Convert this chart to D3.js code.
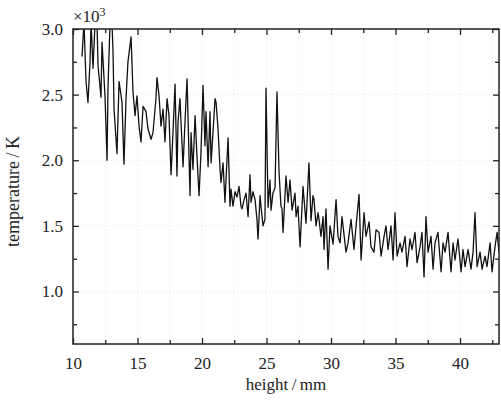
<!DOCTYPE html>
<html>
<head>
<meta charset="utf-8">
<script src="https://cdn.jsdelivr.net/npm/d3@7"></script>
<style>
    body { margin: 0; background: #fff; }
    svg text { font-family: "Liberation Serif", "Times New Roman", serif !important; fill: #222; }
</style>
</head>
<body>
<div id="chart"></div>
<script>
// height along the column (mm) and temperature (K)
const heightMm = [
    10.70, 10.85, 11.01, 11.16, 11.32, 11.40, 11.55, 11.71, 11.86, 11.94,
    12.17, 12.25, 12.48, 12.64, 12.71, 12.87, 13.02, 13.10, 13.18, 13.41,
    13.57, 13.80, 13.95, 14.11, 14.26, 14.50, 14.65, 14.81, 14.96, 15.12,
    15.27, 15.43, 15.66, 15.81, 16.05, 16.20, 16.43, 16.51, 16.67, 16.82,
    16.98, 17.13, 17.29, 17.44, 17.60, 17.75, 17.91, 18.06, 18.14, 18.29,
    18.53, 18.68, 18.84, 19.07, 19.15, 19.30, 19.46, 19.61, 19.77, 19.92,
    20.08, 20.23, 20.31, 20.47, 20.62, 20.70, 20.85, 21.01, 21.09, 21.24,
    21.40, 21.47, 21.63, 21.78, 21.86, 22.02, 22.17, 22.25, 22.40, 22.56,
    22.71, 22.87, 23.02, 23.10, 23.26, 23.41, 23.57, 23.72, 23.80, 23.95,
    24.11, 24.26, 24.34, 24.50, 24.57, 24.73, 24.88, 24.96, 25.12, 25.27,
    25.35, 25.50, 25.66, 25.81, 25.97, 26.12, 26.20, 26.28, 26.51, 26.67,
    26.82, 26.98, 27.21, 27.29, 27.44, 27.60, 27.83, 28.06, 28.29, 28.45,
    28.60, 28.68, 28.84, 28.99, 29.07, 29.22, 29.38, 29.46, 29.61, 29.77,
    29.92, 30.16, 30.39, 30.54, 30.70, 30.85, 31.16, 31.32, 31.55, 31.78,
    31.94, 32.17, 32.33, 32.56, 32.71, 32.95, 33.10, 33.33, 33.49, 33.72,
    33.88, 34.11, 34.26, 34.42, 34.65, 34.81, 34.96, 35.12, 35.35, 35.50,
    35.74, 35.89, 36.12, 36.28, 36.51, 36.67, 36.90, 37.05, 37.21, 37.36,
    37.52, 37.75, 37.91, 38.06, 38.29, 38.53, 38.68, 38.84, 39.07, 39.30,
    39.46, 39.61, 39.84, 40.08, 40.23, 40.39, 40.62, 40.85, 41.01, 41.16,
    41.32, 41.55, 41.71, 41.94, 42.09, 42.33, 42.48, 42.71, 42.87, 43.02
];

const temperatureK = [
    2790, 3050, 2600, 2440, 2750, 3050, 2700, 3050, 3050, 2720,
    2480, 2900, 2490, 2000, 2540, 3050, 3050, 2840, 2390, 2050,
    2600, 2440, 1970, 2470, 2750, 2940, 2520, 2340, 2490, 2260,
    2140, 2410, 2370, 2240, 2160, 2210, 2470, 2630, 2490, 2260,
    2390, 2140, 2470, 2340, 1890, 2210, 2580, 1880, 2290, 2470,
    1950, 2290, 2620, 1730, 2210, 1930, 2340, 2030, 1730, 2060,
    2570, 2110, 2370, 1950, 2370, 1980, 2210, 2470, 2440, 2240,
    1930, 1830, 1980, 1680, 1850, 2170, 1650, 1780, 1650, 1760,
    1720, 1800, 1650, 1630, 1700, 1750, 1570, 1890, 1680, 1760,
    1700, 1550, 1400, 1730, 1650, 1500, 1550, 2550, 1640, 1850,
    1620, 1750, 1790, 2520, 1910, 1650, 1630, 1450, 1880, 1680,
    1850, 1620, 1750, 1570, 1650, 1340, 1800, 1520, 1980, 1540,
    1730, 1700, 1500, 1600, 1550, 1420, 1570, 1320, 1630, 1170,
    1500, 1360, 1700, 1420, 1370, 1570, 1300, 1370, 1550, 1320,
    1500, 1740, 1240, 1600, 1420, 1530, 1340, 1300, 1470, 1450,
    1270, 1420, 1500, 1320, 1500, 1240, 1600, 1270, 1370, 1300,
    1420, 1190, 1400, 1320, 1450, 1220, 1340, 1450, 1110, 1570,
    1300, 1420, 1170, 1370, 1450, 1150, 1370, 1300, 1450, 1150,
    1370, 1240, 1400, 1150, 1320, 1190, 1320, 1170, 1300, 1600,
    1190, 1300, 1170, 1270, 1190, 1370, 1150, 1340, 1450, 1300
];

const xMajorTicks = [10, 15, 20, 25, 30, 35, 40];
const xMinorTicks = [12.5, 17.5, 22.5, 27.5, 32.5, 37.5, 42.5];
const yMajorTicks = [1000, 1500, 2000, 2500, 3000];
const yMinorTicks = [750, 1250, 1750, 2250, 2750];

const xDomain = [10, 43.02];
const yDomain = [600, 3000];

const serif = "'Liberation Serif', 'Times New Roman', serif";

function ShowGraph(config)
{
    const margin = { top: 29, right: 2, bottom: 58, left: 73 };
    const width = config.width - margin.left - margin.right;
    const height = config.height - margin.top - margin.bottom;

    const root = d3.select(config.root)
        .append("svg")
        .attr("width", config.width)
        .attr("height", config.height)
        .attr("font-family", serif);

    root.append("rect")
        .attr("width", config.width)
        .attr("height", config.height)
        .attr("fill", "#fff");

    const svg = root.append("g")
        .attr("transform", `translate(${margin.left}, ${margin.top})`);

    const xScale = d3.scaleLinear().domain(xDomain).range([0, width]);
    const yScale = d3.scaleLinear().domain(yDomain).range([height, 0]);

    // faint grid, like the scanned original
    svg.append("g")
        .selectAll("line")
        .data(xMajorTicks.concat(xMinorTicks).filter(d => d > 10))
        .join("line")
        .attr("x1", d => xScale(d)).attr("x2", d => xScale(d))
        .attr("y1", 0).attr("y2", height)
        .attr("stroke", "#e4e4e4")
        .attr("stroke-dasharray", "1,3");

    svg.append("g")
        .selectAll("line")
        .data(yMajorTicks.filter(d => d < 3000))
        .join("line")
        .attr("x1", 0).attr("x2", width)
        .attr("y1", d => yScale(d)).attr("y2", d => yScale(d))
        .attr("stroke", "#e4e4e4")
        .attr("stroke-dasharray", "1,3");

    svg.append("clipPath")
        .attr("id", "plot-clip")
        .append("rect")
        .attr("width", width)
        .attr("height", height);

    const points = heightMm.map((h, i) => ({ h: h, t: temperatureK[i] }));

    svg.append("path")
        .datum(points)
        .attr("clip-path", "url(#plot-clip)")
        .attr("fill", "none")
        .attr("stroke", "#111")
        .attr("stroke-width", 1.3)
        .attr("stroke-linejoin", "round")
        .attr("d", d3.line()
            .x(d => xScale(d.h))
            .y(d => yScale(d.t)));

    const major = 6, minor = 4;

    const styleAxis = g => {
        g.attr("font-family", serif).attr("font-size", 17);
        g.select(".domain").remove();
        g.selectAll(".tick line").attr("stroke", "#222").attr("stroke-width", 1.3);
        g.selectAll(".tick text").attr("fill", "#222").attr("font-family", serif).style("font-size", "17px");
    };

    // bottom
    svg.append("g")
        .attr("transform", `translate(0, ${height})`)
        .call(d3.axisBottom(xScale).tickValues(xMajorTicks).tickSize(-major).tickPadding(13).tickFormat(d3.format("d")))
        .call(styleAxis);
    svg.append("g")
        .attr("transform", `translate(0, ${height})`)
        .call(d3.axisBottom(xScale).tickValues(xMinorTicks).tickSize(-minor).tickFormat(""))
        .call(styleAxis);

    // top
    svg.append("g")
        .call(d3.axisTop(xScale).tickValues(xMajorTicks).tickSize(-major).tickFormat(""))
        .call(styleAxis);
    svg.append("g")
        .call(d3.axisTop(xScale).tickValues(xMinorTicks).tickSize(-minor).tickFormat(""))
        .call(styleAxis);

    // left
    svg.append("g")
        .call(d3.axisLeft(yScale).tickValues(yMajorTicks).tickSize(-major).tickPadding(10).tickFormat(d => (d / 1000).toFixed(1)))
        .call(styleAxis);
    svg.append("g")
        .call(d3.axisLeft(yScale).tickValues(yMinorTicks).tickSize(-minor).tickFormat(""))
        .call(styleAxis);

    // right
    svg.append("g")
        .attr("transform", `translate(${width}, 0)`)
        .call(d3.axisRight(yScale).tickValues(yMajorTicks).tickSize(-major).tickFormat(""))
        .call(styleAxis);
    svg.append("g")
        .attr("transform", `translate(${width}, 0)`)
        .call(d3.axisRight(yScale).tickValues(yMinorTicks).tickSize(-minor).tickFormat(""))
        .call(styleAxis);

    // frame
    svg.append("rect")
        .attr("width", width)
        .attr("height", height)
        .attr("fill", "none")
        .attr("stroke", "#222")
        .attr("stroke-width", 1.5);

    // exponent label
    const expo = svg.append("text")
        .attr("x", 0)
        .attr("y", -7)
        .style("font-size", "17px");
    expo.append("tspan").text("\u00d710");
    expo.append("tspan").attr("dy", -6).style("font-size", "12px").text("3");

    // axis titles
    svg.append("text")
        .attr("x", width / 2)
        .attr("y", height + 46)
        .attr("text-anchor", "middle")
        .style("font-size", "17px")
        .text("height\u2009/\u2009mm");

    svg.append("text")
        .attr("transform", `translate(${-54}, ${height / 2 + 5}) rotate(-90)`)
        .attr("text-anchor", "middle")
        .style("font-size", "18px")
        .text("temperature\u2009/\u2009K");
}

ShowGraph({ root: "#chart", width: 501, height: 402 });
</script>
</body>
</html>
